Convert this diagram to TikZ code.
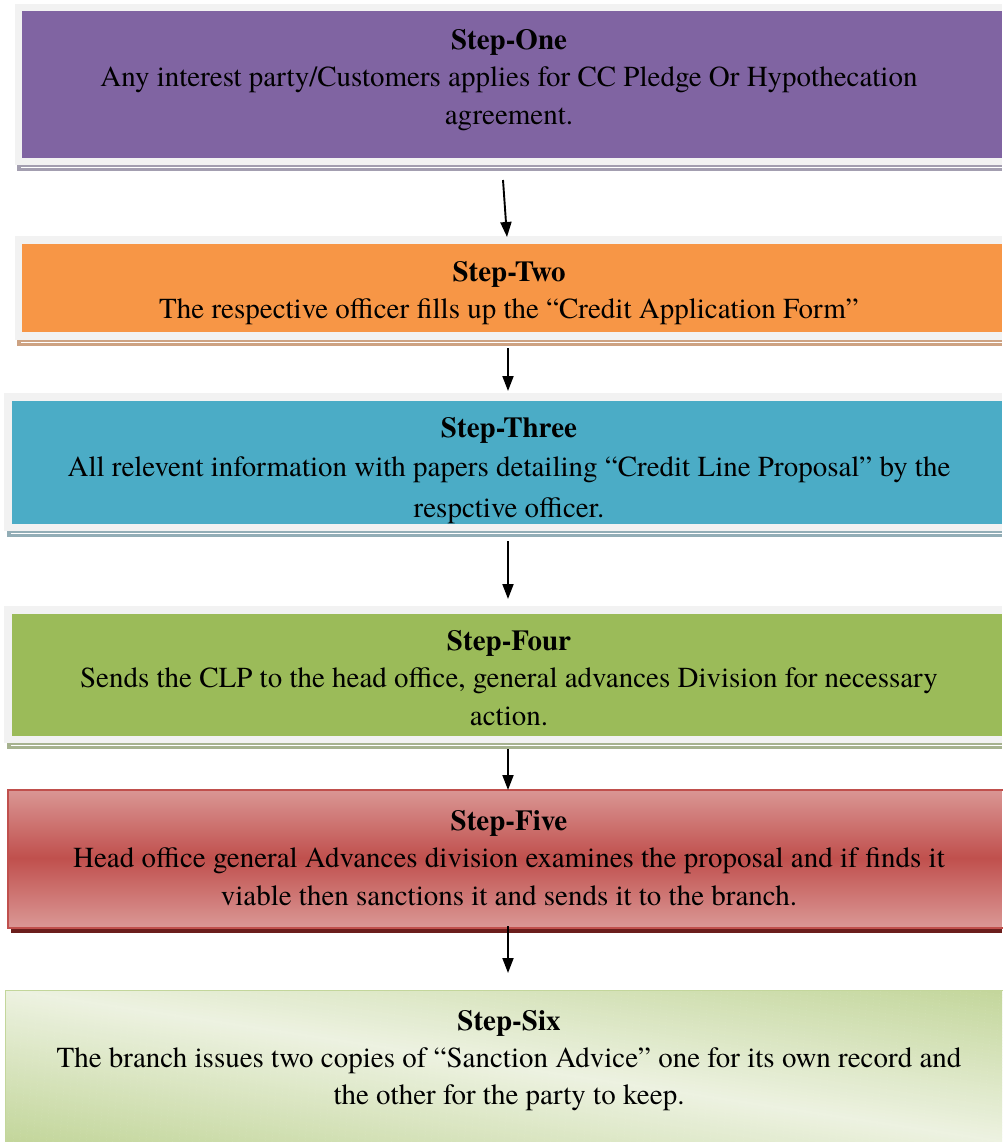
\documentclass[tikz,border=0pt]{standalone}
\usepackage{fontspec}
\setmainfont{texgyretermes}[Extension=.otf,UprightFont=*-regular,BoldFont=*-bold,ItalicFont=*-italic,BoldItalicFont=*-bolditalic]
\usetikzlibrary{arrows.meta}
\definecolor{framegray}{HTML}{F2F2F2}
\definecolor{cpurple}{HTML}{8064A2}
\definecolor{spurple}{HTML}{A39EB0}
\definecolor{corange}{HTML}{F79646}
\definecolor{sorange}{HTML}{CDA282}
\definecolor{cteal}{HTML}{4BACC6}
\definecolor{steal}{HTML}{92ADB6}
\definecolor{cgreen}{HTML}{9BBB59}
\definecolor{sgreen}{HTML}{A6B28F}
\definecolor{cred}{HTML}{C0504D}
\definecolor{lred}{HTML}{DA9795}
\definecolor{sred}{HTML}{6B1E1C}
\definecolor{gdark}{HTML}{C3D69B}
\definecolor{glight}{HTML}{EDF2E1}
\begin{document}
\begin{tikzpicture}[x=1pt,y=-1pt,
  txt/.style={anchor=base,inner sep=0pt,font=\fontsize{29}{38}\selectfont},
  ttl/.style={txt,font=\fontsize{29}{38}\selectfont\bfseries},
  flow/.style={line width=1.9pt,-{Triangle[length=15pt,width=11pt]}},
  frame/.style={fill=framegray}
]
\useasboundingbox (0,0) rectangle (1002,1142);
\fill[white] (0,0) rectangle (1002,1142);

% ---- Box 1
\fill[spurple] (17,165) rectangle (1002,171);
\draw[white,line width=1pt] (21,167.5) -- (1002,167.5);
\fill[frame] (15,4) rectangle (1002,165);
\node[fill=cpurple,inner sep=0pt,minimum width=980pt,minimum height=147pt,anchor=north west] (b1) at (22,11) {};
\node[ttl] (t1a) at (509,50) {Step-One};
\node[txt] (t1b) at (509,87) {Any interest party/Customers applies for CC Pledge Or Hypothecation};
\node[txt] (t1c) at (509,125) {agreement.};

% ---- Box 2
\fill[sorange] (17,340) rectangle (1002,346);
\draw[white,line width=1pt] (21,342) -- (1002,342);
\fill[frame] (15,236) rectangle (1002,340);
\node[fill=corange,inner sep=0pt,minimum width=980pt,minimum height=88pt,anchor=north west] (b2) at (22,244) {};
\node[ttl] (t2a) at (509,281) {Step-Two};
\node[txt] (t2b) at (509,318) {The respective officer fills up the “Credit Application Form”};

% ---- Box 3
\fill[steal] (7,531) rectangle (1002,537);
\draw[white,line width=1pt] (11,533) -- (1002,533);
\fill[frame] (4,393) rectangle (1002,531);
\node[fill=cteal,inner sep=0pt,minimum width=990pt,minimum height=123pt,anchor=north west] (b3) at (12,401) {};
\node[ttl] (t3a) at (509,437) {Step-Three};
\node[txt] (t3b) at (509,476) {All relevent information with papers detailing “Credit Line Proposal” by the};
\begin{scope}
\clip (12,401) rectangle (1002,523);
\node[txt] (t3c) at (509,517) {respctive officer.};
\end{scope}

% ---- Box 4
\fill[sgreen] (7,743) rectangle (1002,749);
\draw[white,line width=1pt] (11,745) -- (1002,745);
\fill[frame] (4,606) rectangle (1002,743);
\node[fill=cgreen,inner sep=0pt,minimum width=990pt,minimum height=122pt,anchor=north west] (b4) at (12,614) {};
\node[ttl] (t4a) at (509,650) {Step-Four};
\node[txt] (t4b) at (509,687) {Sends the CLP to the head office, general advances Division for necessary};
\node[txt] (t4c) at (509,725) {action.};

% ---- Box 5 (vertical gradient light-dark-light)
\fill[sred] (11,927) rectangle (1002,933);
\foreach \i in {0,...,137}{
  \pgfmathsetmacro\f{min(100,abs(\i-69)/69*100)}
  \fill[lred!\f!cred] (7,789+\i) rectangle (1002,790.2+\i);
}
\node[draw=cred,line width=1.5pt,inner sep=0pt,minimum width=998pt,minimum height=138pt,anchor=north west] (b5) at (7,789) {};
\node[ttl] (t5a) at (509,830) {Step-Five};
\node[txt] (t5b) at (509,867) {Head office general Advances division examines the proposal and if finds it};
\node[txt] (t5c) at (509,905) {viable then sanctions it and sends it to the branch.};

% ---- Box 6 (diagonal gradient)
\begin{scope}
\clip (5,990) rectangle (1002,1145);
\foreach \s in {-156,-153,...,156}{
  \pgfmathsetmacro\f{min(100,abs(\s)/150*100)}
  \draw[gdark!\f!glight,line width=3.4pt]
    ({503.5-\s*0.1507-700*0.9886},{1066+\s*0.9886-700*0.1507}) --
    ({503.5-\s*0.1507+700*0.9886},{1066+\s*0.9886+700*0.1507});
}
\end{scope}
\node[draw=gdark,line width=1pt,inner sep=0pt,minimum width=1000pt,minimum height=155pt,anchor=north west] (b6) at (5,990) {};
\node[ttl] (t6a) at (509,1030) {Step-Six};
\node[txt] (t6b) at (509,1067) {The branch issues two copies of “Sanction Advice” one for its own record and};
\node[txt] (t6c) at (509,1104) {the other for the party to keep.};

% ---- Arrows
\coordinate (a1s) at (503,180);
\coordinate (a1e) at (507,237);
\coordinate (a2s) at (508,348);
\coordinate (a2e) at (508,391);
\coordinate (a3s) at (508,541);
\coordinate (a3e) at (508,599);
\coordinate (a4s) at (508,749);
\coordinate (a4e) at (508,790);
\coordinate (a5s) at (508,926);
\coordinate (a5e) at (508,973);
\draw[flow] (a1s) -- (a1e);
\draw[flow] (a2s) -- (a2e);
\draw[flow] (a3s) -- (a3e);
\draw[flow] (a4s) -- (a4e);
\draw[flow] (a5s) -- (a5e);
\end{tikzpicture}
\end{document}
